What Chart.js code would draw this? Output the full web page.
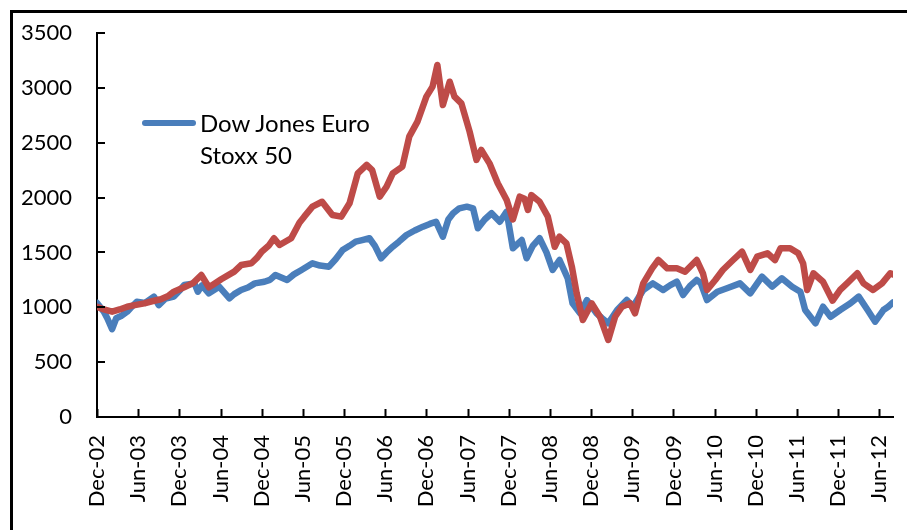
<!DOCTYPE html>
<html>
<head>
<meta charset="utf-8">
<script src="https://cdn.jsdelivr.net/npm/chart.js@4.4.1/dist/chart.umd.min.js"></script>
<style>
    html, body { margin: 0; padding: 0; background: #fff; overflow: hidden; }
    #wrap { position: relative; width: 907px; height: 530px; }
    #frame { position: absolute; left: 10px; top: 10px; width: 1000px; height: 1000px; border: 3px solid #000; box-sizing: border-box; }
    #legend { position: absolute; left: 142px; top: 107px; font-family: Lato, sans-serif; font-size: 24px; color: #000; }
    #legend .swatch { position: absolute; left: 0; top: 13px; width: 54px; height: 6px; border-radius: 3px; background: #4A7EBB; }
    #legend .text { position: absolute; left: 58px; top: 0; line-height: 32px; white-space: nowrap; }
</style>
</head>
<body>
<div id="wrap">
    <canvas id="chart" width="907" height="530"></canvas>
    <div id="frame"></div>
    <div id="legend">
        <div class="swatch"></div>
        <div class="text">Dow Jones Euro<br>Stoxx 50</div>
    </div>
</div>
<script>
// x values are months since Dec-02
const xTickLabels = ['Dec-02', 'Jun-03', 'Dec-03', 'Jun-04', 'Dec-04', 'Jun-05', 'Dec-05', 'Jun-06', 'Dec-06', 'Jun-07',
    'Dec-07', 'Jun-08', 'Dec-08', 'Jun-09', 'Dec-09', 'Jun-10', 'Dec-10', 'Jun-11', 'Dec-11', 'Jun-12'];

const blueMonths = [0, 0.5, 1, 1.5, 2.2, 2.8, 3.5, 4.4, 5, 5.8, 7, 8.3, 9, 10, 11.2, 12, 12.7, 14.2, 14.7, 15.3,
    16.3, 17.8, 19.3, 20, 21, 22, 23, 24.4, 25.2, 26, 27.7, 28.7, 29.8, 31.4, 32.5, 33.8, 34.8, 35.8, 36.8, 37.7,
    38.5, 39.7, 40.5, 41.4, 42.2, 43.1, 44, 45.1, 46.3, 47.5, 48.5, 49.4, 50.4, 51.2, 51.9, 52.8, 53.9, 54.8, 55.5, 56.5,
    57.5, 58.7, 59.7, 60.6, 61.9, 62.6, 63.5, 64.5, 65.5, 66.4, 67.4, 68.6, 69.3, 70.4, 71.4, 72.8, 73.6, 74.5, 75.8, 77.2,
    78.1, 79.6, 81, 82.5, 83.5, 84.5, 85.4, 86.5, 87.4, 88, 88.9, 90.4, 91.8, 93.7, 95.2, 96.9, 98.4, 99.8, 101.3, 102.5,
    103.2, 104.7, 105.8, 106.9, 108.3, 109.8, 111, 112.3, 113.4, 114.6, 115.3, 116];
const blueValues = [1040, 1000, 960, 900, 800, 900, 920, 960, 1000, 1050, 1040, 1097, 1020, 1080, 1097, 1150, 1203, 1218, 1142, 1200,
    1127, 1188, 1082, 1120, 1158, 1180, 1218, 1233, 1250, 1294, 1249, 1300, 1340, 1401, 1380, 1370, 1440, 1522, 1560, 1598,
    1610, 1629, 1560, 1447, 1500, 1552, 1598, 1659, 1700, 1735, 1760, 1780, 1643, 1800, 1857, 1902, 1917, 1902, 1720, 1800,
    1857, 1780, 1872, 1538, 1613, 1447, 1560, 1629, 1500, 1340, 1431, 1264, 1036, 945, 1066, 945, 900, 854, 975, 1066,
    1005, 1158, 1218, 1158, 1200, 1233, 1112, 1200, 1249, 1218, 1066, 1142, 1173, 1218, 1127, 1279, 1188, 1264, 1188, 1142,
    975, 854, 1005, 914, 975, 1036, 1097, 975, 869, 975, 1005, 1045];

const redMonths = [0, 1, 2.2, 3.3, 4.4, 5.5, 6.9, 8, 9.3, 10.3, 11.2, 12.7, 14, 15.2, 16.3, 17, 18.1, 20, 21, 22.5,
    23.3, 24, 25, 25.8, 26.6, 28.3, 29.5, 30.2, 31.4, 32.8, 34.3, 35.6, 36.8, 38, 39.3, 40.1, 41.2, 42.2, 43.1, 44.5,
    45.5, 46.7, 48, 48.9, 49.6, 50.4, 51.4, 52.1, 53.1, 54.3, 55.3, 56, 57.2, 58.4, 59.7, 60.6, 61.6, 62.3, 62.8, 63.3,
    64.5, 65.7, 66.7, 67.4, 68.4, 69.2, 69.9, 70.8, 72.1, 73.3, 74.5, 75.5, 76.5, 77.7, 78.4, 79.6, 80.9, 81.8, 83.1, 84.5,
    85.7, 87.4, 88.3, 88.9, 90.1, 91.2, 92.7, 94, 95.2, 96.2, 97.7, 98.8, 99.6, 101, 102.2, 102.9, 103.5, 104.4, 105.8, 107.2,
    108.3, 109.3, 110.8, 111.7, 113.1, 114.4, 115.6, 116];
const redValues = [1005, 980, 960, 980, 1005, 1020, 1036, 1055, 1073, 1100, 1142, 1182, 1220, 1294, 1182, 1210, 1255, 1325, 1385, 1401,
    1450, 1507, 1560, 1629, 1568, 1629, 1770, 1826, 1917, 1962, 1841, 1826, 1948, 2221, 2297, 2251, 2008, 2099, 2221, 2282,
    2555, 2692, 2920, 3011, 3208, 2844, 3056, 2920, 2859, 2601, 2343, 2434, 2312, 2130, 1978, 1800, 2008, 1990, 1887, 2023,
    1962, 1826, 1552, 1643, 1583, 1370, 1127, 884, 1036, 914, 702, 914, 1005, 1036, 945, 1218, 1355, 1431, 1355, 1355,
    1324, 1431, 1310, 1158, 1249, 1340, 1431, 1507, 1340, 1461, 1492, 1431, 1538, 1538, 1492, 1401, 1158, 1310, 1233, 1060,
    1158, 1218, 1310, 1218, 1158, 1218, 1310, 1300];

const colorBlue = '#4A7EBB';
const colorRed = '#BE4B48';

function toPoints(xs, ys) {
    return xs.map((x, i) => ({ x: x, y: ys[i] }));
}

// short tick marks pointing into the plot area
const innerTicks = {
    id: 'innerTicks',
    afterDatasetsDraw(chart) {
        const ctx = chart.ctx;
        const xs = chart.scales.x;
        const ys = chart.scales.y;
        ctx.save();
        ctx.strokeStyle = '#000';
        ctx.lineWidth = 2;
        ctx.beginPath();
        xs.ticks.forEach(t => {
            const px = Math.round(xs.getPixelForValue(t.value)) + 0.5;
            ctx.moveTo(px, ys.bottom);
            ctx.lineTo(px, ys.bottom - 8);
        });
        ys.ticks.forEach(t => {
            const py = Math.round(ys.getPixelForValue(t.value));
            ctx.moveTo(xs.left, py);
            ctx.lineTo(xs.left + 8, py);
        });
        ctx.stroke();
        ctx.restore();
    }
};

const tickFont = { family: 'Lato, sans-serif', size: 22 };

new Chart(document.getElementById('chart'), {
    type: 'line',
    data: {
        datasets: [
            {
                label: 'Series 2',
                data: toPoints(redMonths, redValues),
                borderColor: colorRed,
                borderWidth: 6.5,
                pointRadius: 0,
                tension: 0,
                borderJoinStyle: 'round',
                borderCapStyle: 'round'
            },
            {
                label: 'Dow Jones Euro Stoxx 50',
                data: toPoints(blueMonths, blueValues),
                borderColor: colorBlue,
                borderWidth: 6.5,
                pointRadius: 0,
                tension: 0,
                borderJoinStyle: 'round',
                borderCapStyle: 'round'
            }
        ]
    },
    options: {
        responsive: false,
        animation: false,
        layout: { padding: { top: 33, right: 14, left: 0, bottom: 0 } },
        plugins: {
            legend: { display: false },
            tooltip: { enabled: false }
        },
        scales: {
            x: {
                type: 'linear',
                min: 0,
                max: 116,
                grid: { display: true, drawOnChartArea: false, drawTicks: false },
                border: { display: true, color: '#000', width: 2 },
                afterFit: (scale) => {
                    scale.height = 113;
                    scale.paddingLeft = 0;
                    scale.paddingRight = 0;
                },
                ticks: {
                    stepSize: 6,
                    includeBounds: false,
                    autoSkip: false,
                    minRotation: 90,
                    maxRotation: 90,
                    padding: 18,
                    color: '#000',
                    font: tickFont,
                    callback: (value) => xTickLabels[value / 6]
                }
            },
            y: {
                min: 0,
                max: 3500,
                grid: { display: true, drawOnChartArea: false, drawTicks: false },
                border: { display: true, color: '#000', width: 2 },
                afterFit: (scale) => {
                    scale.width = 97;
                    scale.paddingTop = 0;
                    scale.paddingBottom = 0;
                },
                ticks: {
                    stepSize: 500,
                    padding: 25,
                    color: '#000',
                    font: tickFont,
                    callback: (value) => String(value)
                }
            }
        }
    },
    plugins: [innerTicks]
});
</script>
</body>
</html>
